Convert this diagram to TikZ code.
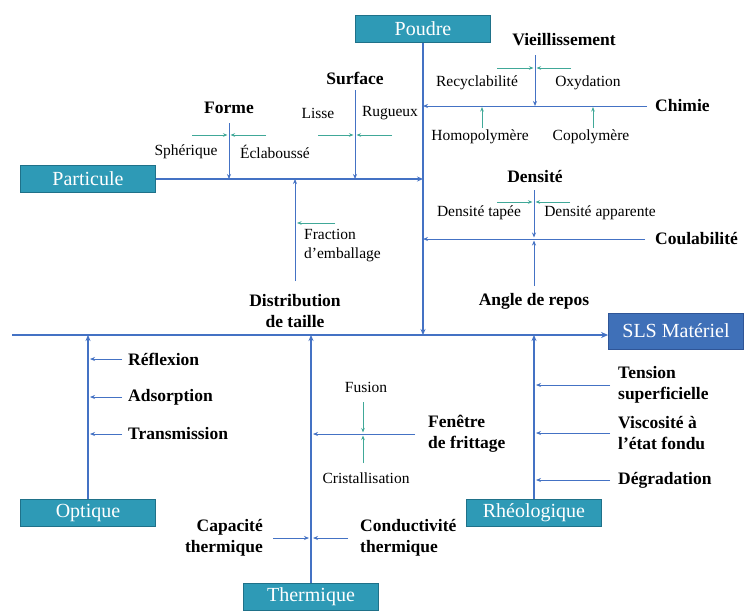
\documentclass[tikz,border=0pt]{standalone}
\usepackage{fontspec}
\setmainfont{Liberation Serif}
\usetikzlibrary{arrows.meta, positioning}
\definecolor{linkblue}{HTML}{4472C4}
\definecolor{boxteal}{HTML}{2E9AB6}
\definecolor{boxedge}{HTML}{1F7189}
\definecolor{mainblue}{HTML}{3F70B8}
\definecolor{mainedge}{HTML}{2F5597}
\definecolor{leafteal}{HTML}{40A898}
\tikzset{
    catbox/.style = {draw=boxedge, thick, fill=boxteal, text=white, minimum width=135pt, minimum height=27pt, inner sep=0pt, font=\fontsize{20}{22}\selectfont},
    mainbox/.style = {catbox, draw=mainedge, fill=mainblue, minimum height=36pt},
    lbl/.style = {inner sep=0pt, align=center, font=\fontsize{17.5}{21}\selectfont\bfseries},
    sublbl/.style = {inner sep=0pt, align=center, font=\fontsize{15.5}{19}\selectfont},
    spine/.style = {linkblue, line width=2pt, -{Stealth[length=7pt,width=6pt]}},
    branch/.style = {linkblue, line width=1.5pt, -{Stealth[length=6pt,width=5pt]}},
    twig/.style = {linkblue, line width=0.9pt, -{Stealth[length=5pt,width=4pt]}},
    leaf/.style = {leafteal, line width=0.8pt, -{Stealth[length=4.5pt,width=3.5pt]}}
}

\begin{document}
\begin{tikzpicture}[x=1pt, y=-1pt]
    \path[use as bounding box, fill=white] (0,0) rectangle (747,614);

    % category boxes
    \node[mainbox] (sls) at (676,331) {SLS Matériel};
    \node[catbox] (poudre) at (423,29) {Poudre};
    \node[catbox] (particule) at (88,179) {Particule};
    \node[catbox] (optique) at (88,513) {Optique};
    \node[catbox] (thermique) at (311,597) {Thermique};
    \node[catbox] (rheo) at (534,513) {Rhéologique};

    % spine and main branches
    \coordinate (tail) at (12,335);
    \draw[spine] (tail) -- (sls.west |- tail);
    \draw[branch] (poudre) -- (poudre |- tail);
    \draw[branch] (particule) -- (particule -| poudre);
    \draw[branch] (optique) -- (optique |- tail);
    \draw[branch] (thermique) -- (thermique |- tail);
    \draw[branch] (rheo) -- (rheo |- tail);

    % Particule
    \node[lbl] (forme) at (229,108) {Forme};
    \node[sublbl] (spherique) at (186,152) {Sphérique};
    \node[sublbl] (eclabousse) at (275,152) {Éclaboussé};
    \coordinate (formetop) at (229,123);
    \coordinate (formemid) at (229,135);
    \draw[twig] (formetop) -- (formetop |- particule);
    \draw[leaf] ([xshift=-37pt]formemid) -- ([xshift=-1.5pt]formemid);
    \draw[leaf] ([xshift=37pt]formemid) -- ([xshift=1.5pt]formemid);

    \node[lbl] (surface) at (355,78) {Surface};
    \node[sublbl] (lisse) at (318,113) {Lisse};
    \node[sublbl] (rugueux) at (390,113) {Rugueux};
    \coordinate (surftop) at (355,90);
    \coordinate (surfmid) at (355,135);
    \draw[twig] (surftop) -- (surftop |- particule);
    \draw[leaf] ([xshift=-37pt]surfmid) -- ([xshift=-1.5pt]surfmid);
    \draw[leaf] ([xshift=37pt]surfmid) -- ([xshift=1.5pt]surfmid);

    \node[lbl] (distrib) at (295,311) {Distribution\\de taille};
    \coordinate (distail) at (295,281);
    \draw[twig] (distail) -- (distail |- particule);
    \node[sublbl, align=left, anchor=north west] (fraction) at (304,229) {Fraction\\d’emballage};
    \coordinate (fracend) at (335,223);
    \draw[leaf] (fracend) -- ([xshift=2pt]fracend -| distail);

    % Poudre
    \node[lbl, anchor=west] (chimie) at (655,106) {Chimie};
    \draw[twig] ([xshift=-8pt]chimie.west) -- (chimie.west -| poudre);
    \node[lbl] (vieil) at (564,40) {Vieillissement};
    \node[sublbl] (recyc) at (477,83) {Recyclabilité};
    \node[sublbl] (oxyd) at (588,83) {Oxydation};
    \coordinate (vieiltop) at (535,55);
    \coordinate (vieilmid) at (535,68);
    \draw[twig] (vieiltop) -- (vieiltop |- chimie.west);
    \draw[leaf] ([xshift=-38pt]vieilmid) -- ([xshift=-1.5pt]vieilmid);
    \draw[leaf] ([xshift=36pt]vieilmid) -- ([xshift=1.5pt]vieilmid);
    \node[sublbl] (homo) at (480,137) {Homopolymère};
    \node[sublbl] (copo) at (591,137) {Copolymère};
    \coordinate (homofoot) at (482,128);
    \coordinate (copofoot) at (593,128);
    \draw[leaf] (homofoot) -- ([yshift=-1pt]homofoot |- chimie.west);
    \draw[leaf] (copofoot) -- ([yshift=-1pt]copofoot |- chimie.west);

    \node[lbl, anchor=west] (coul) at (655,239) {Coulabilité};
    \draw[twig] ([xshift=-10pt]coul.west) -- (coul.west -| poudre);
    \node[lbl] (densite) at (535,176) {Densité};
    \node[sublbl] (tapee) at (479,213) {Densité tapée};
    \node[sublbl] (apparente) at (600,213) {Densité apparente};
    \coordinate (denstop) at (534,190);
    \coordinate (densmid) at (534,202);
    \draw[twig] (denstop) -- ([yshift=1.5pt]denstop |- coul.west);
    \draw[leaf] ([xshift=-37pt]densmid) -- ([xshift=-1.5pt]densmid);
    \draw[leaf] ([xshift=36pt]densmid) -- ([xshift=1.5pt]densmid);
    \node[lbl] (angle) at (534,301) {Angle de repos};
    \coordinate (angletail) at (534,286);
    \draw[twig] (angletail) -- ([yshift=-1.5pt]angletail |- coul.west);

    % Optique
    \node[lbl, anchor=west] (reflexion) at (128,359) {Réflexion};
    \node[lbl, anchor=west] (adsorption) at (128,397) {Adsorption};
    \node[lbl, anchor=west] (transmission) at (128,434) {Transmission};
    \draw[twig] ([xshift=-6pt]reflexion.west) -- ([xshift=2pt]reflexion.west -| optique);
    \draw[twig] ([xshift=-6pt]adsorption.west) -- ([xshift=2pt]adsorption.west -| optique);
    \draw[twig] ([xshift=-6pt]transmission.west) -- ([xshift=2pt]transmission.west -| optique);

    % Thermique
    \node[lbl, anchor=west, align=left] (fenetre) at (428,434) {Fenêtre\\de frittage};
    \draw[twig] ([xshift=-13pt]fenetre.west) -- ([xshift=2pt]fenetre.west -| thermique);
    \node[sublbl] (fusion) at (366,387) {Fusion};
    \node[sublbl] (cristal) at (366,478) {Cristallisation};
    \coordinate (fustop) at (363,402);
    \coordinate (fusmid) at (363,434);
    \coordinate (fusbot) at (363,463);
    \draw[leaf] (fustop) -- ([yshift=1.5pt]fusmid);
    \draw[leaf] (fusbot) -- ([yshift=-1.5pt]fusmid);
    \node[lbl, anchor=east, align=right] (capacite) at (263,538) {Capacité\\thermique};
    \node[lbl, anchor=west, align=left] (conduc) at (360,538) {Conductivité\\thermique};
    \coordinate (thermjoin) at (capacite.east -| thermique);
    \draw[twig] ([xshift=10pt]capacite.east) -- ([xshift=-2pt]thermjoin);
    \draw[twig] ([xshift=-12pt]conduc.west) -- ([xshift=2pt]thermjoin);

    % Rheologique
    \node[lbl, anchor=west, align=left] (tension) at (618,385) {Tension\\superficielle};
    \node[lbl, anchor=west, align=left] (visco) at (618,433) {Viscosité à\\l’état fondu};
    \node[lbl, anchor=west] (degrad) at (618,480) {Dégradation};
    \draw[twig] ([xshift=-8pt]tension.west) -- ([xshift=2pt]tension.west -| rheo);
    \draw[twig] ([xshift=-8pt]visco.west) -- ([xshift=2pt]visco.west -| rheo);
    \draw[twig] ([xshift=-8pt]degrad.west) -- ([xshift=2pt]degrad.west -| rheo);
\end{tikzpicture}
\end{document}
